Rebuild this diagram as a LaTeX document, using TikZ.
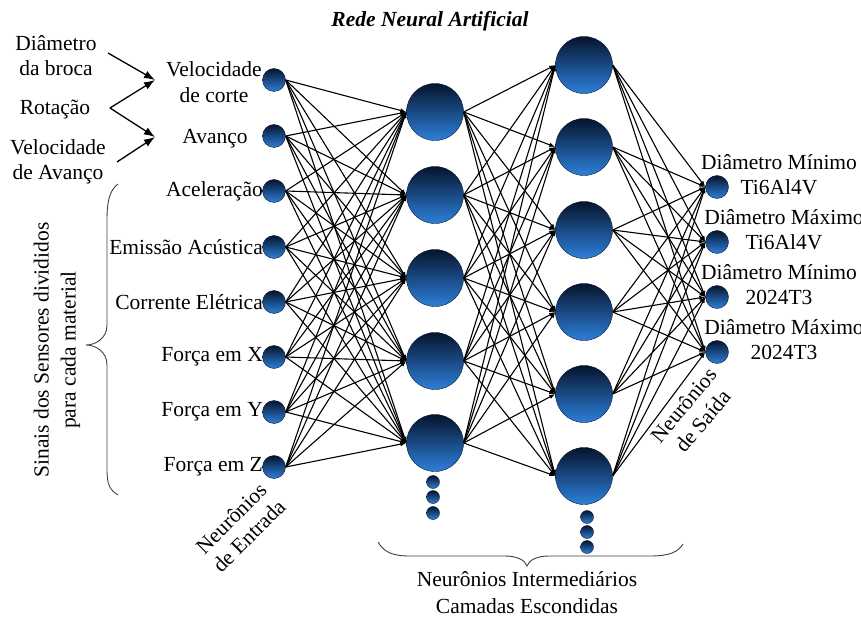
\documentclass[tikz,border=0pt]{standalone}
\usepackage{fontspec}
\setmainfont{Liberation Serif}
\usetikzlibrary{arrows.meta}
\definecolor{balltop}{RGB}{6,20,45}
\definecolor{ballbot}{RGB}{45,128,218}
\definecolor{balledge}{RGB}{10,25,50}
\begin{document}
\begin{tikzpicture}[x=1pt,y=-1pt,
  font=\fontsize{21.5}{26}\selectfont,
  ball/.style={circle,inner sep=0pt,shading=axis,top color=balltop,bottom color=ballbot,draw=balledge,line width=0.4pt},
  smallball/.style={ball,minimum size=23pt},
  bigball/.style={ball,minimum size=57pt},
  dotball/.style={ball,minimum size=13pt},
  lbl/.style={inner sep=0pt,align=center},
  conn/.style={line width=1.1pt,-{Latex[length=6pt,width=4.5pt]}},
  larr/.style={line width=1.3pt,-{Latex[length=11pt,width=8pt]}},
  brace/.style={line width=0.9pt,draw=black!75}]
\useasboundingbox (0,0) rectangle (861,617);

% title
\node[lbl,font=\fontsize{21.5}{26}\selectfont\bfseries\itshape] (title) at (430,21) {Rede Neural Artificial};

% input neurons
\foreach \y [count=\k] in {80,136,191,247,302,357,412,467}
  \node[smallball] (i\k) at (274,\y) {};
% hidden layer 1
\foreach \y [count=\k] in {112,195,278,361,443}
  \node[bigball] (a\k) at (435,\y) {};
% hidden layer 2
\foreach \y [count=\k] in {65,147,230,312,394,476}
  \node[bigball] (b\k) at (584,\y) {};
% output neurons
\foreach \y [count=\k] in {187,242,297,352}
  \node[smallball] (o\k) at (717,\y) {};
% dots
\foreach \y [count=\k] in {482,497,513}
  \node[dotball] (da\k) at (433,\y) {};
\foreach \y [count=\k] in {517,532,547}
  \node[dotball] (db\k) at (587,\y) {};

% connections
\foreach \i in {1,...,8}{\foreach \j in {1,...,5}{\draw[conn] (i\i.east) -- (a\j.west);}}
\foreach \i in {1,...,5}{\foreach \j in {1,...,6}{\draw[conn] (a\i.east) -- (b\j.west);}}
\foreach \i in {1,...,6}{\foreach \j in {1,...,4}{\draw[conn] (b\i.east) -- (o\j.west);}}

% input labels
\node[lbl] (l1) at (214,82) {Velocidade\\de corte};
\node[lbl] (l2) at (215,139) {Avanço};
\node[lbl,anchor=east] (l3) at (263,191) {Aceleração};
\node[lbl,anchor=east] (l4) at (263,247) {Emissão Acústica};
\node[lbl,anchor=east] (l5) at (263,302) {Corrente Elétrica};
\node[lbl,anchor=east] (l6) at (263,357) {Força em X};
\node[lbl,anchor=east] (l7) at (263,412) {Força em Y};
\node[lbl,anchor=east] (l8) at (263,467) {Força em Z};

% output labels
\node[lbl,font=\fontsize{21.5}{25}\selectfont] (ol1) at (779,175) {Diâmetro Mínimo\\Ti6Al4V};
\node[lbl,font=\fontsize{21.5}{25}\selectfont] (ol2) at (784,230) {Diâmetro Máximo\\Ti6Al4V};
\node[lbl,font=\fontsize{21.5}{25}\selectfont] (ol3) at (779,285) {Diâmetro Mínimo\\2024T3};
\node[lbl,font=\fontsize{21.5}{25}\selectfont] (ol4) at (784,340) {Diâmetro Máximo\\2024T3};

% left-side inputs
\node[lbl,font=\fontsize{21.5}{25}\selectfont] (d1) at (56,56) {Diâmetro\\da broca};
\node[lbl] (rot) at (55,110) {Rotação};
\node[lbl,font=\fontsize{21.5}{25}\selectfont] (va) at (58,162) {Velocidade\\de Avanço};
\coordinate (s1) at (108,53);
\coordinate (rv) at (110,108);
\coordinate (s4) at (117,162);
\coordinate (e1) at (155,80);
\coordinate (e2) at (155,137);
\draw[larr] (s1) -- (e1);
\draw[larr] (rv) -- (e1);
\draw[larr] (rv) -- (e2);
\draw[larr] (s4) -- (e2);

% left brace and text
\draw[brace] (118,184) .. controls (110,190) and (107,200) .. (107,220) -- (107,325)
  .. controls (107,338) and (96,345) .. (86,345)
  .. controls (96,345) and (107,352) .. (107,365) -- (107,470)
  .. controls (107,485) and (110,490) .. (118,495);
\node[lbl,rotate=90,font=\fontsize{21.5}{27}\selectfont] (sens) at (57,350) {Sinais dos Sensores divididos\\para cada material};

% rotated layer labels
\node[lbl,rotate=45,font=\fontsize{21.5}{25}\selectfont] (nent) at (240,527) {Neurônios\\de Entrada};
\node[lbl,rotate=50,font=\fontsize{21.5}{25}\selectfont] (nsai) at (693,413) {Neurônios\\de Saída};

% bottom brace and text
\draw[brace] (378,542) .. controls (384,552) and (392,556) .. (410,556) -- (505,556)
  .. controls (517,556) and (525,560) .. (527,566)
  .. controls (529,560) and (537,556) .. (549,556) -- (650,556)
  .. controls (670,556) and (678,552) .. (683,544);
\node[lbl,font=\fontsize{21.5}{27}\selectfont] (nint) at (527,593) {Neurônios Intermediários\\Camadas Escondidas};
\end{tikzpicture}
\end{document}
